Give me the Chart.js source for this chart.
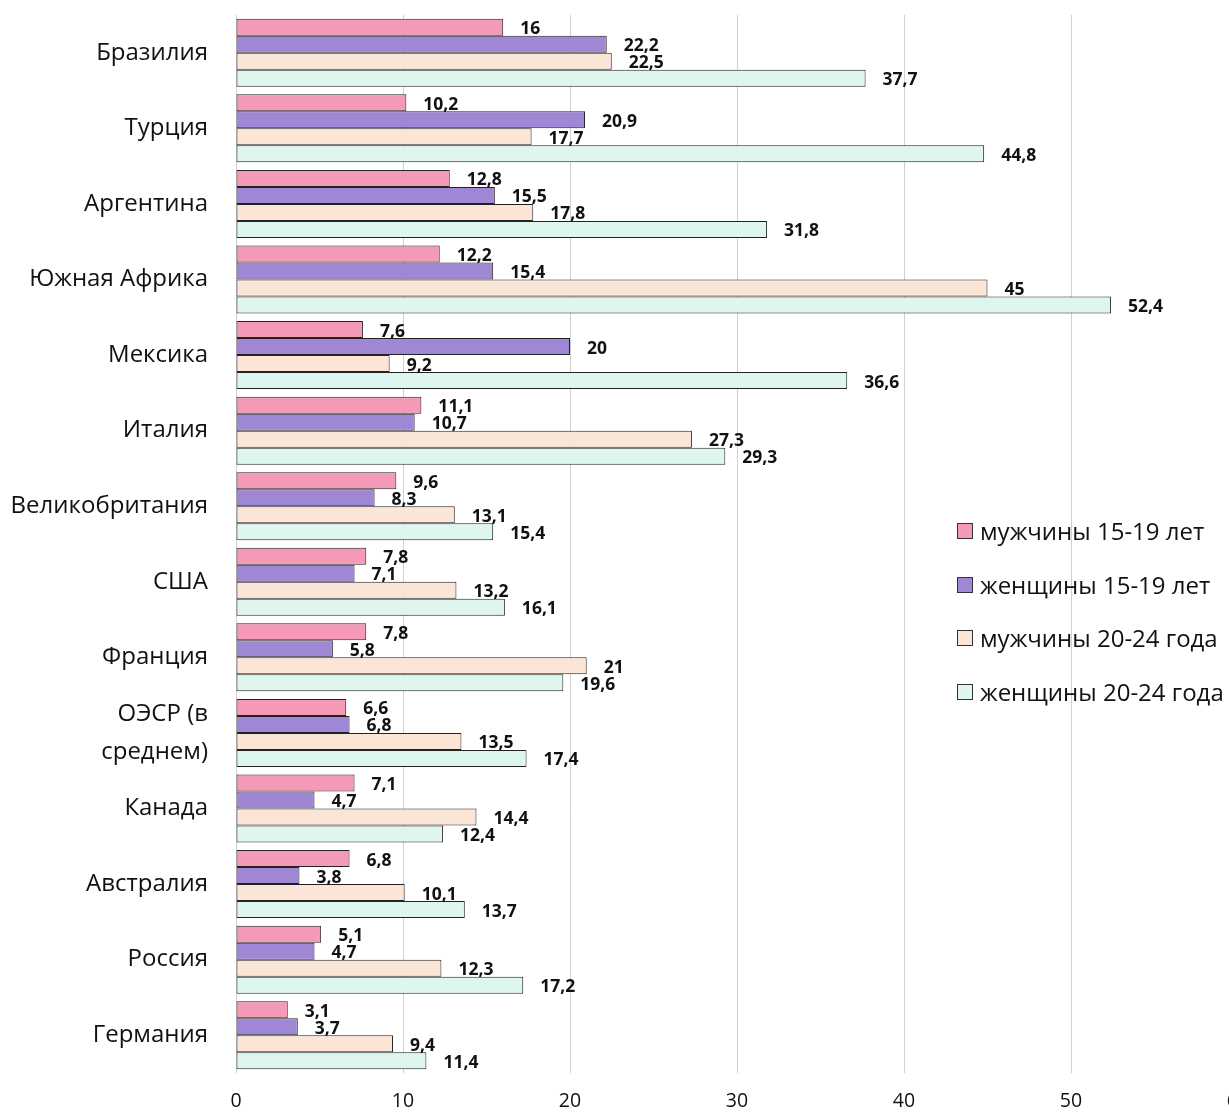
<!DOCTYPE html>
<html>
<head>
<meta charset="utf-8">
<script src="https://cdn.jsdelivr.net/npm/chart.js@4.4.1/dist/chart.umd.min.js"></script>
<style>
  body { margin: 0; overflow: hidden; background: #fff; }
  #wrap { position: absolute; left: 0; top: 0; width: 1265px; height: 1112px; }
  .legend { position: absolute; left: 957px; top: 514px; font-family: 'Open Sans', sans-serif; font-size: 24px; color: #111; }
  .legend div { height: 53.7px; display: flex; align-items: flex-start; white-space: nowrap; }
  .legend span.box { display: inline-block; box-sizing: border-box; width: 16px; height: 16px; border: 1px solid #333; margin: 9px 7px 0 0; }
</style>
</head>
<body>
<div id="wrap">
  <canvas id="chart" width="1265" height="1112"></canvas>
  <div class="legend" id="legend"></div>
</div>
<script>
const countries = ['Бразилия', 'Турция', 'Аргентина', 'Южная Африка', 'Мексика', 'Италия',
  'Великобритания', 'США', 'Франция', ['ОЭСР (в', 'среднем)'], 'Канада', 'Австралия', 'Россия', 'Германия'];

const men1519 = [16, 10.2, 12.8, 12.2, 7.6, 11.1, 9.6, 7.8, 7.8, 6.6, 7.1, 6.8, 5.1, 3.1];
const women1519 = [22.2, 20.9, 15.5, 15.4, 20, 10.7, 8.3, 7.1, 5.8, 6.8, 4.7, 3.8, 4.7, 3.7];
const men2024 = [22.5, 17.7, 17.8, 45, 9.2, 27.3, 13.1, 13.2, 21, 13.5, 14.4, 10.1, 12.3, 9.4];
const women2024 = [37.7, 44.8, 31.8, 52.4, 36.6, 29.3, 15.4, 16.1, 19.6, 17.4, 12.4, 13.7, 17.2, 11.4];

const seriesNames = ['мужчины 15-19 лет', 'женщины 15-19 лет', 'мужчины 20-24 года', 'женщины 20-24 года'];
const seriesColors = ['#F59AB6', '#A087D6', '#FBE5D7', '#DFF6EE'];

const xTicks = [0, 10, 20, 30, 40, 50, 60];

// bold value next to the end of each bar
const valueLabels = {
  id: 'valueLabels',
  afterDatasetsDraw(chart) {
    const ctx = chart.ctx;
    ctx.save();
    ctx.font = 'bold 17.5px "Open Sans", sans-serif';
    ctx.fillStyle = '#111';
    ctx.textBaseline = 'middle';
    ctx.textAlign = 'left';
    chart.data.datasets.forEach((ds, i) => {
      chart.getDatasetMeta(i).data.forEach((bar, j) => {
        const txt = String(ds.data[j]).replace('.', ',');
        ctx.fillText(txt, bar.x + 17, bar.y + 2);
      });
    });
    ctx.restore();
  }
};

const allSeries = [men1519, women1519, men2024, women2024];

new Chart(document.getElementById('chart').getContext('2d'), {
  type: 'bar',
  data: {
    labels: countries,
    datasets: allSeries.map((d, i) => ({
      label: seriesNames[i],
      data: d,
      backgroundColor: seriesColors[i],
      borderColor: '#222',
      borderWidth: 1,
      borderSkipped: false,
      categoryPercentage: 0.9,
      barPercentage: 1.0
    }))
  },
  options: {
    indexAxis: 'y',
    responsive: false,
    animation: false,
    devicePixelRatio: 1,
    layout: { padding: { top: 15, right: 27, left: 0, bottom: 0 } },
    scales: {
      x: {
        min: 0,
        max: 60,
        afterBuildTicks(scale) { scale.ticks = xTicks.map(v => ({ value: v })); },
        afterFit(scale) { scale.height = 39; scale.paddingLeft = 0; scale.paddingRight = 0; },
        grid: { color: '#d0d0d0', drawTicks: false },
        border: { display: false },
        ticks: { font: { family: 'Open Sans', size: 19.5 }, color: '#111', padding: 17, maxRotation: 0, autoSkip: false }
      },
      y: {
        afterFit(scale) { scale.width = 236; scale.paddingTop = 0; scale.paddingBottom = 0; },
        grid: { display: false, drawTicks: false },
        border: { display: false },
        ticks: { font: { family: 'Open Sans', size: 24, lineHeight: 1.6 }, color: '#111', padding: 28, autoSkip: false }
      }
    },
    plugins: {
      legend: { display: false },
      tooltip: { enabled: false }
    }
  },
  plugins: [valueLabels]
});

const legendEl = document.getElementById('legend');
seriesNames.forEach((name, i) => {
  const row = document.createElement('div');
  row.innerHTML = '<span class="box" style="background:' + seriesColors[i] + '"></span>' + name;
  legendEl.appendChild(row);
});
</script>
</body>
</html>
